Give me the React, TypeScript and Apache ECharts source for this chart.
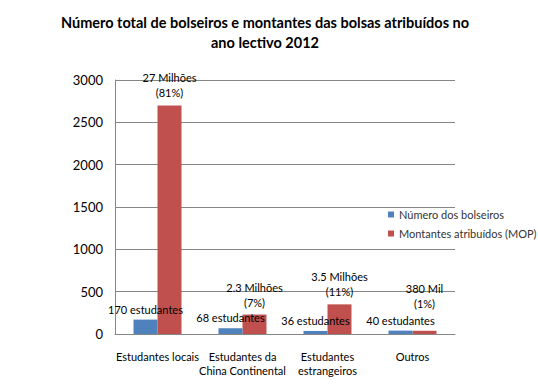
import React, { useEffect, useRef } from "react";
import * as echarts from "echarts";

const categories = [
  "Estudantes locais",
  "Estudantes da\nChina Continental",
  "Estudantes\nestrangeiros",
  "Outros",
];
const bolseiros = [170, 68, 36, 40];
const montantes = [2700, 230, 350, 38];
const bolseirosLabels = ["170 estudantes", "68 estudantes", "36 estudantes", "40 estudantes"];
const montantesLabels = ["27 Milhões\n(81%)", "2.3 Milhões\n(7%)", "3.5 Milhões\n(11%)", "380 Mil\n(1%)"];
const yTicks = [0, 500, 1000, 1500, 2000, 2500, 3000];

const FONT = "Lato";

export default function App() {
  const ref = useRef<HTMLDivElement>(null);
  useEffect(() => {
    const chart = echarts.init(ref.current!, null, { renderer: "svg" });
    chart.setOption({
      animation: false,
      backgroundColor: "#ffffff",
      textStyle: { fontFamily: FONT },
      title: {
        text: "Número total de bolseiros e montantes das bolsas atribuídos no\nano lectivo 2012",
        left: 260,
        top: 7,
        textAlign: "center",
        textStyle: { fontFamily: FONT, fontSize: 14.5, fontWeight: "bold", color: "#000", lineHeight: 20 },
      },
      legend: {
        orient: "vertical",
        left: 383,
        top: 204,
        icon: "rect",
        itemWidth: 6,
        itemHeight: 6,
        itemGap: 8,
        textStyle: { fontFamily: FONT, fontSize: 11, color: "#333" },
        data: ["Número dos bolseiros", "Montantes atribuídos (MOP)"],
      },
      grid: { left: 115, right: 83, top: 80, bottom: 58, containLabel: false },
      xAxis: {
        type: "category",
        data: categories,
        axisLine: { show: true, lineStyle: { color: "#868686" } },
        axisTick: { show: false },
        axisLabel: { fontFamily: FONT, fontSize: 11, color: "#000", margin: 15, lineHeight: 14, interval: 0 },
      },
      yAxis: {
        type: "value",
        min: yTicks[0],
        max: yTicks[yTicks.length - 1],
        interval: 500,
        axisLine: { show: true, lineStyle: { color: "#868686" } },
        axisTick: { show: false },
        splitLine: { lineStyle: { color: "#868686" } },
        axisLabel: {
          fontFamily: FONT,
          fontSize: 13,
          color: "#000",
          margin: 12,
          formatter: (v: number) => String(v),
        },
      },
      series: [
        {
          name: "Número dos bolseiros",
          type: "bar",
          barWidth: 24,
          barGap: "0%",
          itemStyle: { color: "#4F81BD" },
          data: bolseiros.map((v, i) => ({
            value: v,
            label: {
              show: true,
              position: "top",
              distance: 5,
              formatter: bolseirosLabels[i],
              fontFamily: FONT,
              fontSize: 11,
              color: "#000",
            },
          })),
          z: 2,
        },
        {
          name: "Montantes atribuídos (MOP)",
          type: "bar",
          barWidth: 24,
          barGap: "0%",
          itemStyle: { color: "#C0504D" },
          data: montantes.map((v, i) => ({
            value: v,
            label: {
              show: true,
              position: "top",
              distance: i === 3 ? 20 : 5,
              formatter: montantesLabels[i],
              fontFamily: FONT,
              fontSize: 11,
              lineHeight: 15,
              color: "#000",
              align: "center",
            },
          })),
          z: 1,
        },
      ],
    });
    return () => chart.dispose();
  }, []);
  return (
    <div
      ref={ref}
      style={{ position: "fixed", left: 0, top: 0, width: 538, height: 392 }}
    />
  );
}
